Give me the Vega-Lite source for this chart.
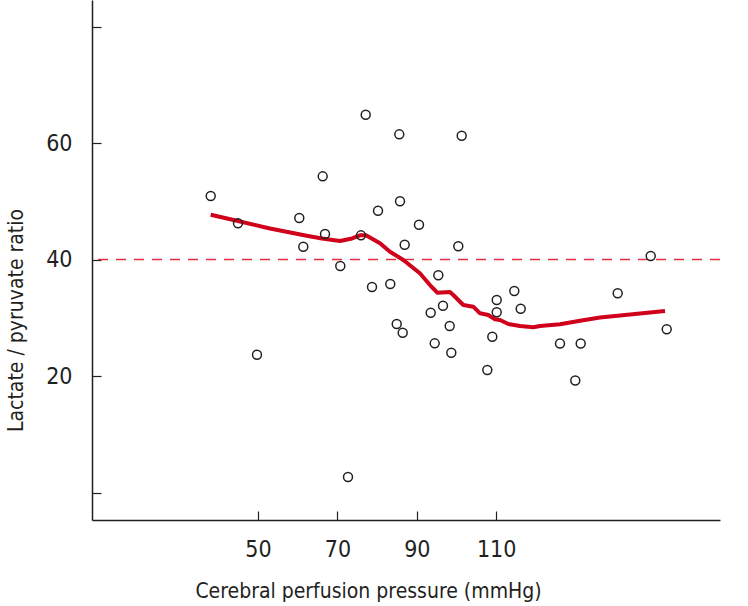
{
  "$schema": "https://vega.github.io/schema/vega-lite/v6.json",
  "width": 628,
  "height": 520,
  "autosize": {"type": "none"},
  "padding": {"left": 92, "top": 0, "right": 28, "bottom": 86},
  "background": "white",
  "config": {
    "view": {"stroke": null},
    "font": "DejaVu Sans Condensed, sans-serif",
    "axis": {
      "grid": false,
      "domainColor": "#231f20",
      "domainWidth": 1.5,
      "tickColor": "#231f20",
      "tickWidth": 1.2,
      "tickSize": -9,
      "labelColor": "#231f20",
      "labelFontSize": 23,
      "labelFont": "DejaVu Sans Condensed, sans-serif",
      "titleFont": "DejaVu Sans Condensed, sans-serif",
      "titleFontSize": 21,
      "titleFontWeight": "normal",
      "titleColor": "#231f20",
      "labelFlush": false,
      "labelOverlap": false
    }
  },
  "datasets": {
    "points": [
      {"cpp": 38.09, "lpr": 50.90},
      {"cpp": 44.96, "lpr": 46.21},
      {"cpp": 49.75, "lpr": 23.66},
      {"cpp": 60.40, "lpr": 47.12},
      {"cpp": 61.41, "lpr": 42.20},
      {"cpp": 66.30, "lpr": 54.28},
      {"cpp": 66.88, "lpr": 44.38},
      {"cpp": 70.73, "lpr": 38.88},
      {"cpp": 72.67, "lpr": 2.66},
      {"cpp": 75.94, "lpr": 44.15},
      {"cpp": 77.13, "lpr": 64.86},
      {"cpp": 78.72, "lpr": 35.28},
      {"cpp": 80.23, "lpr": 48.38},
      {"cpp": 83.32, "lpr": 35.79},
      {"cpp": 84.94, "lpr": 28.93},
      {"cpp": 85.59, "lpr": 61.49},
      {"cpp": 85.77, "lpr": 49.99},
      {"cpp": 86.45, "lpr": 27.43},
      {"cpp": 86.95, "lpr": 42.54},
      {"cpp": 90.55, "lpr": 45.97},
      {"cpp": 93.50, "lpr": 30.87},
      {"cpp": 94.51, "lpr": 25.61},
      {"cpp": 95.42, "lpr": 37.29},
      {"cpp": 96.60, "lpr": 32.07},
      {"cpp": 98.29, "lpr": 28.58},
      {"cpp": 98.69, "lpr": 24.00},
      {"cpp": 100.45, "lpr": 42.27},
      {"cpp": 101.31, "lpr": 61.25},
      {"cpp": 107.76, "lpr": 21.03},
      {"cpp": 109.02, "lpr": 26.75},
      {"cpp": 110.13, "lpr": 33.05},
      {"cpp": 110.13, "lpr": 30.94},
      {"cpp": 114.56, "lpr": 34.59},
      {"cpp": 116.17, "lpr": 31.55},
      {"cpp": 126.07, "lpr": 25.58},
      {"cpp": 131.28, "lpr": 25.58},
      {"cpp": 129.92, "lpr": 19.23},
      {"cpp": 140.60, "lpr": 34.20},
      {"cpp": 148.92, "lpr": 40.60},
      {"cpp": 152.95, "lpr": 28.02}
    ],
    "loess": [
      {"cpp": 38.09, "lpr": 47.69},
      {"cpp": 44.96, "lpr": 46.61},
      {"cpp": 53.02, "lpr": 45.32},
      {"cpp": 62.27, "lpr": 44.09},
      {"cpp": 66.12, "lpr": 43.61},
      {"cpp": 70.65, "lpr": 43.18},
      {"cpp": 73.68, "lpr": 43.61},
      {"cpp": 75.69, "lpr": 44.15},
      {"cpp": 77.20, "lpr": 44.15},
      {"cpp": 80.73, "lpr": 42.78},
      {"cpp": 83.25, "lpr": 41.34},
      {"cpp": 86.60, "lpr": 39.91},
      {"cpp": 90.78, "lpr": 37.63},
      {"cpp": 93.32, "lpr": 35.62},
      {"cpp": 95.16, "lpr": 34.30},
      {"cpp": 98.36, "lpr": 34.42},
      {"cpp": 99.19, "lpr": 33.91},
      {"cpp": 101.71, "lpr": 32.19},
      {"cpp": 104.23, "lpr": 31.90},
      {"cpp": 105.92, "lpr": 30.76},
      {"cpp": 108.01, "lpr": 30.47},
      {"cpp": 109.70, "lpr": 29.73},
      {"cpp": 110.96, "lpr": 29.61},
      {"cpp": 113.05, "lpr": 28.93},
      {"cpp": 115.99, "lpr": 28.58},
      {"cpp": 119.35, "lpr": 28.36},
      {"cpp": 121.03, "lpr": 28.58},
      {"cpp": 126.07, "lpr": 28.88},
      {"cpp": 131.11, "lpr": 29.49},
      {"cpp": 136.15, "lpr": 30.04},
      {"cpp": 152.52, "lpr": 31.16}
    ],
    "threshold": [{"lpr": 40}]
  },
  "layer": [
    {
      "data": {"name": "threshold"},
      "mark": {"type": "rule", "color": "#e2303e", "strokeDash": [10, 8], "strokeWidth": 1.5},
      "encoding": {
        "y": {
          "field": "lpr",
          "type": "quantitative",
          "scale": {"domain": [-4.72, 84.55], "nice": false, "zero": false},
          "axis": {
            "values": [0, 20, 40, 60, 80],
            "labelExpr": "datum.value == 0 || datum.value == 80 ? '' : datum.label",
            "labelPadding": 29,
            "title": "Lactate / pyruvate ratio",
            "titleAngle": -90,
            "titleX": -70,
            "titleY": 320,
            "titleBaseline": "alphabetic",
            "titleAlign": "center"
          }
        }
      }
    },
    {
      "data": {"name": "loess"},
      "mark": {"type": "line", "color": "#d0021b", "strokeWidth": 4, "strokeJoin": "round", "strokeCap": "butt"},
      "encoding": {
        "x": {
          "field": "cpp",
          "type": "quantitative",
          "scale": {"domain": [8.19, 166.37], "nice": false, "zero": false},
          "axis": {
            "values": [50, 70, 90, 110],
            "labelPadding": 27,
            "title": "Cerebral perfusion pressure (mmHg)",
            "titleX": 276,
            "titleY": 77,
            "titleBaseline": "alphabetic"
          }
        },
        "y": {"field": "lpr", "type": "quantitative"}
      }
    },
    {
      "data": {"name": "points"},
      "mark": {"type": "point", "shape": "circle", "filled": false, "stroke": "#231f20", "strokeWidth": 1.5, "size": 80, "opacity": 1},
      "encoding": {
        "x": {"field": "cpp", "type": "quantitative"},
        "y": {"field": "lpr", "type": "quantitative"}
      }
    }
  ]
}
